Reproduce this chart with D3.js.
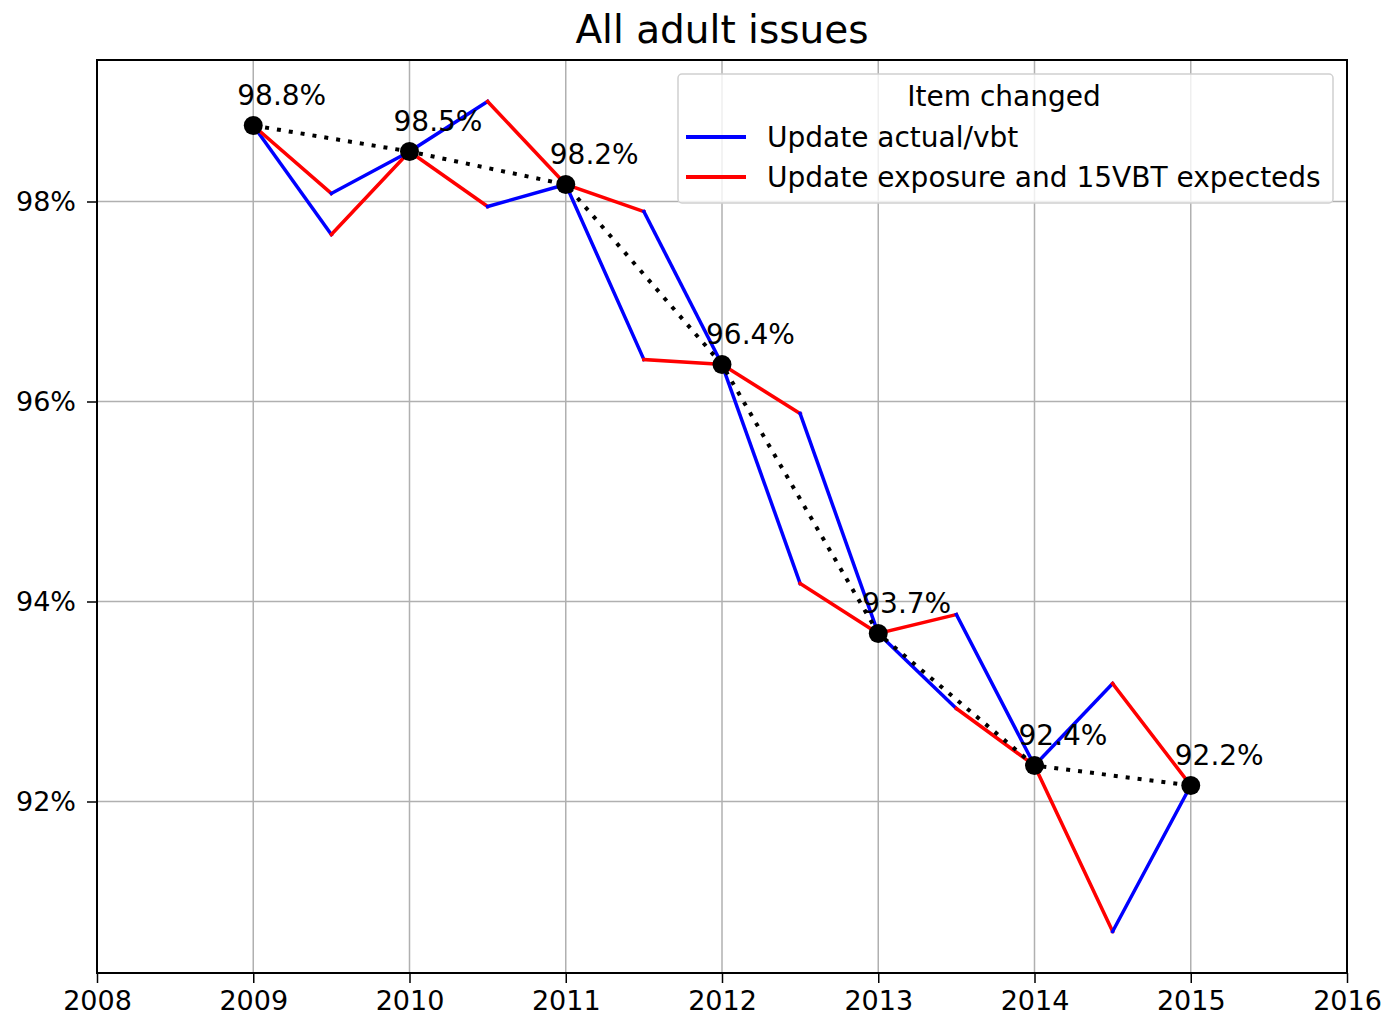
<!DOCTYPE html>
<html>
<head>
<meta charset="utf-8">
<script src="https://cdn.jsdelivr.net/npm/d3@7"></script>
<style>
  body { margin: 0; background: #fff; overflow: hidden; }
  text { font-family: "DejaVu Sans", sans-serif; fill: #000; }
</style>
</head>
<body>
<svg id="chart"></svg>
<script>
// yearly totals (black dotted line)
const years = [2009, 2010, 2011, 2012, 2013, 2014, 2015];
const totals = [98.76, 98.5, 98.17, 96.37, 93.68, 92.36, 92.16];
// half-year midpoints: actual/vbt change applied first, then exposure change
const blueFirstMid = [97.67, 99.0, 96.42, 94.18, 92.93, 93.18];
// half-year midpoints: exposure change applied first, then actual/vbt change
const redFirstMid = [98.08, 97.95, 97.9, 95.88, 93.87, 90.7];

const seriesNames = ["Update actual/vbt", "Update exposure and 15VBT expecteds"];
const seriesColors = ["#0000ff", "#ff0000"];
const legendTitle = "Item changed";
const chartTitle = "All adult issues";

const xTicks = [2008, 2009, 2010, 2011, 2012, 2013, 2014, 2015, 2016];
const yTicks = [92, 94, 96, 98];

const width = 1387, height = 1017;
const margin = { top: 60, right: 40, bottom: 44, left: 97 };
const innerW = width - margin.left - margin.right;
const innerH = height - margin.top - margin.bottom;

const svg = d3.select("#chart").attr("width", width).attr("height", height)
  .style("display", "block");

// y range like matplotlib: data extent with 5% margin
const allVals = totals.concat(blueFirstMid, redFirstMid);
const [ymin, ymax] = d3.extent(allVals);
const pad = (ymax - ymin) * 0.05;

const x = d3.scaleLinear().domain([2008, 2016]).range([0, innerW]);
const y = d3.scaleLinear().domain([ymin - pad, ymax + pad]).range([innerH, 0]);

const g = svg.append("g").attr("transform", `translate(${margin.left},${margin.top})`);

// grid
g.append("g").selectAll("line").data(xTicks).enter().append("line")
  .attr("x1", d => x(d)).attr("x2", d => x(d))
  .attr("y1", 0).attr("y2", innerH)
  .attr("stroke", "#b0b0b0").attr("stroke-width", 1.5);
g.append("g").selectAll("line").data(yTicks).enter().append("line")
  .attr("x1", 0).attr("x2", innerW)
  .attr("y1", d => y(d)).attr("y2", d => y(d))
  .attr("stroke", "#b0b0b0").attr("stroke-width", 1.5);

// axes
const xAxis = g.append("g")
  .attr("transform", `translate(0,${innerH})`)
  .call(d3.axisBottom(x).tickValues(xTicks).tickFormat(d3.format("d")).tickSize(10).tickPadding(8));
const yAxis = g.append("g")
  .call(d3.axisLeft(y).tickValues(yTicks).tickFormat(d => d + "%").tickSize(10).tickPadding(11));
[xAxis, yAxis].forEach(a => {
  a.select(".domain").remove();
  a.selectAll(".tick line").attr("stroke", "#000").attr("stroke-width", 1.5);
  a.selectAll(".tick text").style("font-family", "DejaVu Sans").style("font-size", "27px").attr("fill", "#000");
});

// segments: each year interval has two paths through the half-year point
const segments = [];
for (let i = 0; i < years.length - 1; i++) {
  const x0 = years[i], x1 = years[i + 1], xm = (x0 + x1) / 2;
  segments.push({ s: 0, pts: [[x0, totals[i]], [xm, blueFirstMid[i]]] });
  segments.push({ s: 1, pts: [[xm, blueFirstMid[i]], [x1, totals[i + 1]]] });
  segments.push({ s: 1, pts: [[x0, totals[i]], [xm, redFirstMid[i]]] });
  segments.push({ s: 0, pts: [[xm, redFirstMid[i]], [x1, totals[i + 1]]] });
}

const line = d3.line().x(d => x(d[0])).y(d => y(d[1]));

g.append("g").selectAll("path").data(segments).enter().append("path")
  .attr("d", d => line(d.pts))
  .attr("fill", "none")
  .attr("stroke", d => seriesColors[d.s])
  .attr("stroke-width", 3.5)
  .attr("stroke-linecap", "square");

// dotted total line
const totalPts = years.map((yr, i) => [yr, totals[i]]);
g.append("path")
  .attr("d", line(totalPts))
  .attr("fill", "none")
  .attr("stroke", "#000")
  .attr("stroke-width", 4)
  .attr("stroke-dasharray", "4 8");

g.append("g").selectAll("circle").data(totalPts).enter().append("circle")
  .attr("cx", d => x(d[0])).attr("cy", d => y(d[1]))
  .attr("r", 9.5).attr("fill", "#000");

g.append("g").selectAll("text").data(totalPts).enter().append("text")
  .attr("x", d => x(d[0]) - 16)
  .attr("y", d => y(d[1]) - 21)
  .style("font-size", "28px")
  .text(d => d3.format(".1f")(d[1]) + "%");

// frame
g.append("rect")
  .attr("width", innerW).attr("height", innerH)
  .attr("fill", "none").attr("stroke", "#000").attr("stroke-width", 2);

// legend
const lg = svg.append("g").attr("transform", "translate(678,74)");
lg.append("rect")
  .attr("width", 655).attr("height", 129).attr("rx", 4)
  .attr("fill", "#fff").attr("fill-opacity", 0.8)
  .attr("stroke", "#d0d0d0").attr("stroke-width", 1.5);
lg.append("text")
  .attr("x", 326).attr("y", 32).attr("text-anchor", "middle")
  .style("font-size", "28px").text(legendTitle);
seriesNames.forEach((name, i) => {
  const ly = 63 + i * 40;
  lg.append("line")
    .attr("x1", 8).attr("x2", 68).attr("y1", ly).attr("y2", ly)
    .attr("stroke", seriesColors[i]).attr("stroke-width", 4);
  lg.append("text")
    .attr("x", 89).attr("y", ly + 10)
    .style("font-size", "28px").text(name);
});

// title
svg.append("text")
  .attr("x", margin.left + innerW / 2).attr("y", 43)
  .attr("text-anchor", "middle")
  .style("font-size", "39px")
  .text(chartTitle);
</script>
</body>
</html>
